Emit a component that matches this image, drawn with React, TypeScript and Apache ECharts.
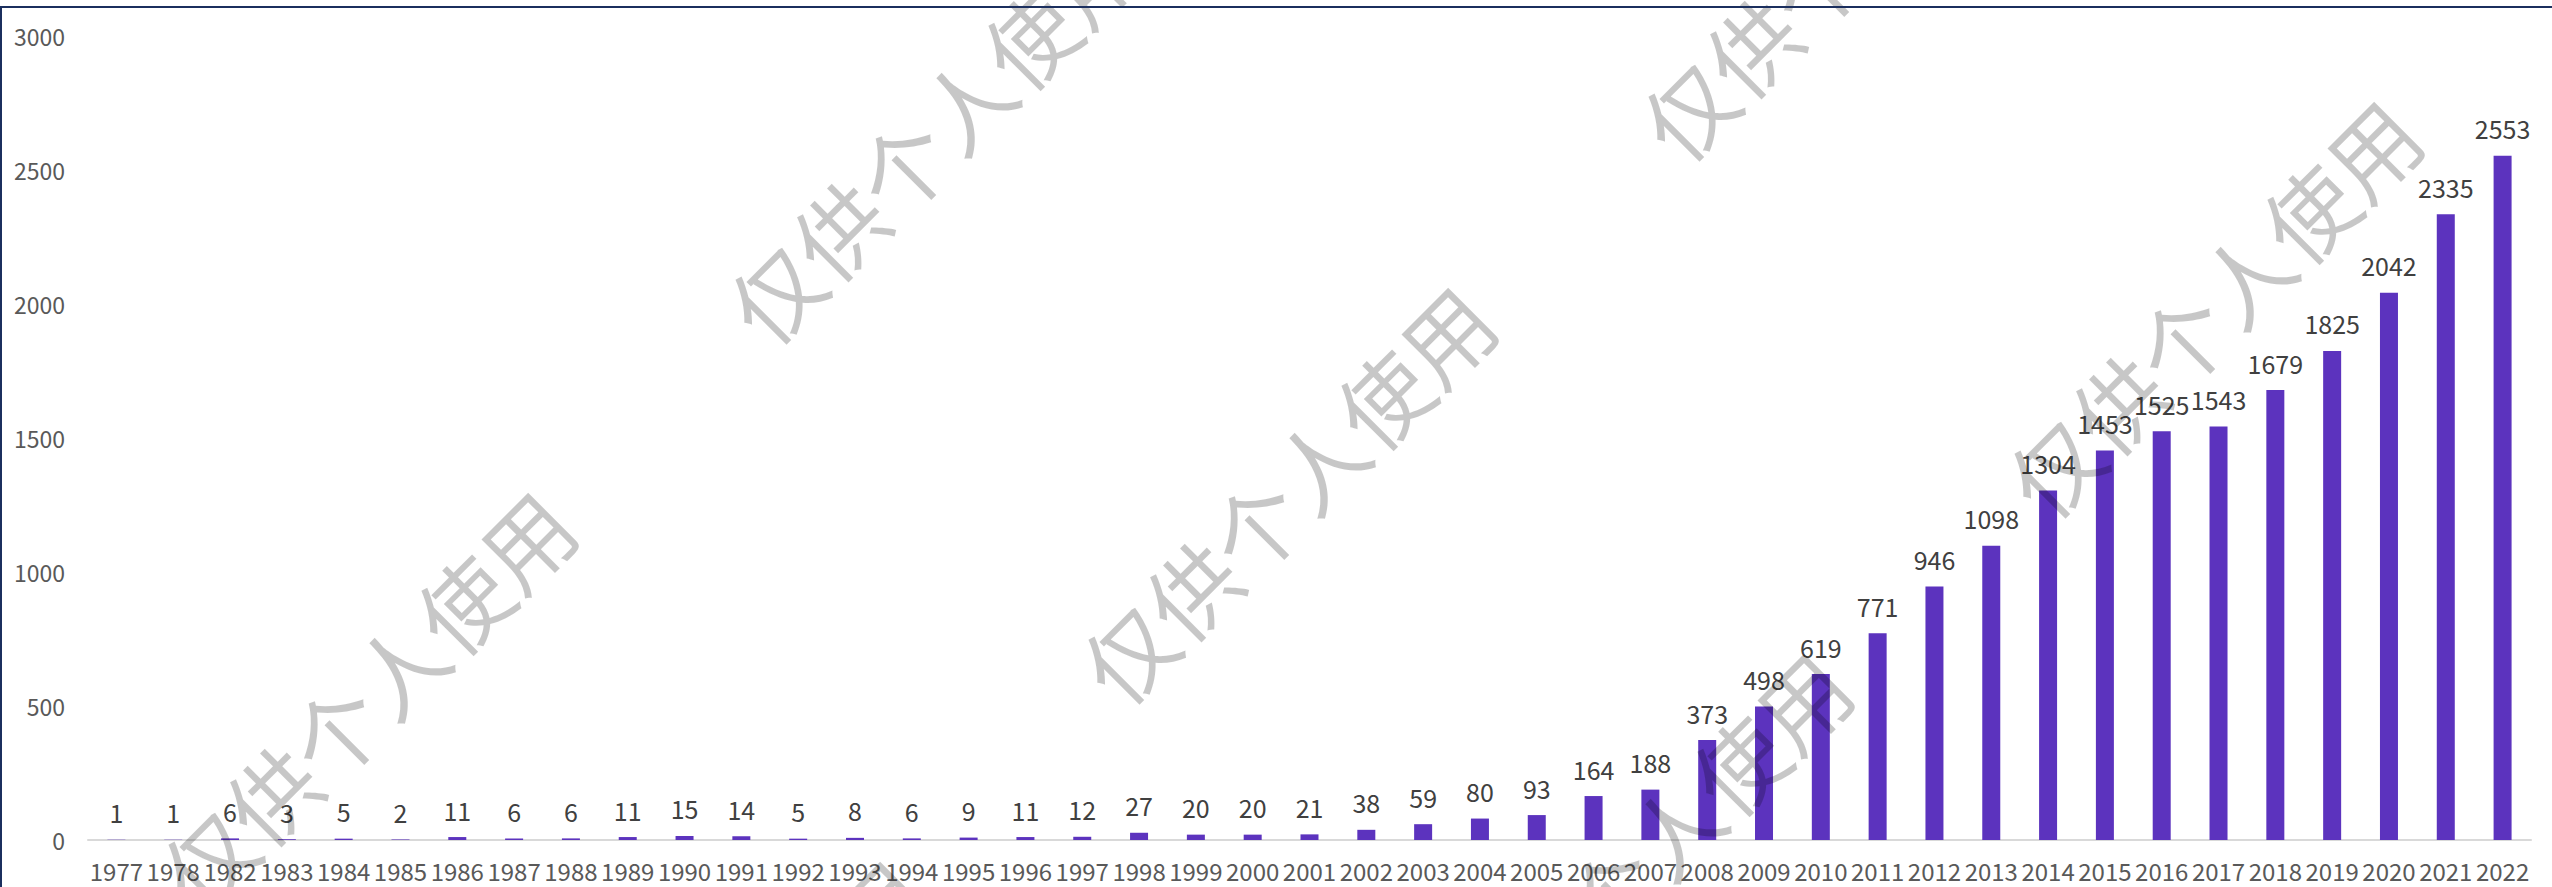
import React, { useEffect, useRef } from "react";
import * as echarts from "echarts";

const years: string[] = [
  "1977", "1978", "1982", "1983", "1984", "1985", "1986", "1987", "1988", "1989",
  "1990", "1991", "1992", "1993", "1994", "1995", "1996", "1997", "1998", "1999",
  "2000", "2001", "2002", "2003", "2004", "2005", "2006", "2007", "2008", "2009",
  "2010", "2011", "2012", "2013", "2014", "2015", "2016", "2017", "2018", "2019",
  "2020", "2021", "2022",
];

const counts: number[] = [
  1, 1, 6, 3, 5, 2, 11, 6, 6, 11,
  15, 14, 5, 8, 6, 9, 11, 12, 27, 20,
  20, 21, 38, 59, 80, 93, 164, 188, 373, 498,
  619, 771, 946, 1098, 1304, 1453, 1525, 1543, 1679, 1825,
  2042, 2335, 2553,
];

const watermarkText = "仅供个人使用";
const watermarkCenters: [number, number][] = [
  [366, 698],
  [933, 133],
  [1286, 493],
  [1642, 859],
  [1846, -50],
  [2212, 307],
  [718, 1067],
];

const labelFont = "'Noto Sans CJK SC', 'Liberation Sans', sans-serif";

export default function App() {
  const ref = useRef<HTMLDivElement>(null);

  useEffect(() => {
    if (!ref.current) return;
    const chart = echarts.init(ref.current, undefined, { renderer: "svg" });

    const marks: any[] = watermarkCenters.map(([x, y]) => ({
      type: "text",
      x,
      y,
      rotation: Math.PI / 4,
      silent: true,
      z: 100,
      style: {
        text: watermarkText,
        fontSize: 90,
        fontFamily: "'Noto Sans CJK SC', sans-serif",
        fill: "rgba(0,0,0,0.22)",
        align: "center",
        verticalAlign: "middle",
      },
    }));

    chart.setOption({
      animation: false,
      backgroundColor: "#ffffff",
      grid: { left: 88, right: 21, top: 36, bottom: 47, containLabel: false },
      xAxis: {
        type: "category",
        data: years,
        axisLine: { show: true, lineStyle: { color: "#D9D9D9", width: 2 } },
        axisTick: { show: false },
        axisLabel: {
          interval: 0,
          fontSize: 24,
          color: "#595959",
          fontFamily: labelFont,
          margin: 18,
        },
        splitLine: { show: false },
      },
      yAxis: {
        type: "value",
        min: 0,
        max: 3000,
        interval: 500,
        axisLine: { show: false },
        axisTick: { show: false },
        splitLine: { show: false },
        axisLabel: {
          fontSize: 23,
          color: "#595959",
          margin: 23,
          fontFamily: labelFont,
          formatter: (v: number) => String(v),
        },
      },
      series: [
        {
          type: "bar",
          data: counts,
          barWidth: 18,
          itemStyle: { color: "#5C33BE" },
          label: {
            show: true,
            position: "top",
            distance: 15,
            fontSize: 25,
            color: "#404040",
            fontFamily: labelFont,
          },
        },
      ],
      graphic: [
        {
          type: "line",
          silent: true,
          z: 110,
          shape: { x1: 0, y1: 7, x2: 2552, y2: 7 },
          style: { stroke: "#1B2F5E", lineWidth: 2 },
        },
        {
          type: "line",
          silent: true,
          z: 110,
          shape: { x1: 1, y1: 6, x2: 1, y2: 887 },
          style: { stroke: "#1B2F5E", lineWidth: 2 },
        },
        ...marks,
      ],
    });

    return () => chart.dispose();
  }, []);

  return (
    <div
      ref={ref}
      style={{ position: "absolute", left: 0, top: 0, width: 2552, height: 887 }}
    />
  );
}
